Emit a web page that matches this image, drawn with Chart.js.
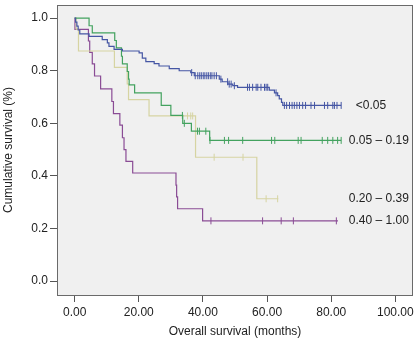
<!DOCTYPE html>
<html lang="en">
<head>
  <meta charset="UTF-8">
  <title>Overall survival</title>
  <script src="https://cdn.jsdelivr.net/npm/chart.js"></script>
  <style>
    html, body { margin: 0; padding: 0; background: #fff; }
  </style>
</head>
<body>
  <canvas id="kmChart" width="418" height="343"></canvas>

  <script>
    // groups
    const groupLabels = ['<0.05', '0.05 \u2013 0.19', '0.20 \u2013 0.39', '0.40 \u2013 1.00'];
    const groupColors = ['#4556a4', '#43a25f', '#d6d4a2', '#8a4c95'];

    // <0.05 : step times (months) and survival after each step
    const lowTimes = [0, 0.3, 0.7, 1.1, 1.6, 4.5, 8.6, 10.2, 10.7, 12.3, 14.9, 20.1, 21.1, 22.2, 24.8, 26.3, 29.5, 32.6, 36.2, 37.3, 45.1, 46.0, 47.8, 49.3, 50.8, 60.7, 62.3, 63.3, 63.8, 64.5, 64.9, 83.1];
    const lowSurv = [1.0, 0.985, 0.97, 0.955, 0.94, 0.931, 0.918, 0.906, 0.893, 0.881, 0.875, 0.868, 0.848, 0.835, 0.827, 0.818, 0.808, 0.800, 0.793, 0.781, 0.768, 0.758, 0.749, 0.743, 0.737, 0.726, 0.716, 0.705, 0.693, 0.680, 0.668, 0.668];
    const lowCensor = [36.5, 37.6, 38.4, 39.0, 39.5, 40.1, 40.6, 41.2, 41.7, 42.3, 42.8, 43.5, 44.2, 45.6, 47.7, 48.2, 48.8, 49.8, 53.9, 54.5, 55.5, 56.6, 57.1, 58.1, 59.2, 59.7, 60.2, 62.8, 65.4, 66.1, 67.0, 67.8, 68.5, 69.3, 70.1, 71.1, 72.0, 73.7, 74.8, 77.9, 78.9, 80.5, 81.0, 81.8, 83.1];

    // 0.05 - 0.19
    const midTimes = [0, 4.5, 5.5, 12.5, 13.0, 14.6, 14.9, 16.4, 16.8, 17.0, 18.7, 27.0, 30.0, 33.7, 36.4, 42.1, 83.1];
    const midSurv = [1.0, 0.971, 0.944, 0.915, 0.887, 0.855, 0.826, 0.797, 0.768, 0.746, 0.716, 0.668, 0.630, 0.600, 0.570, 0.535, 0.535];
    const midCensor = [33.6, 34.2, 38.3, 38.9, 40.9, 42.2, 46.7, 48.0, 52.4, 61.4, 62.4, 69.7, 70.6, 77.2, 78.9, 80.5, 82.0, 83.1];

    // 0.20 - 0.39
    const highTimes = [0, 0.5, 1.2, 12.4, 16.4, 16.8, 23.2, 37.7, 56.8, 63.5];
    const highSurv = [1.0, 0.958, 0.875, 0.813, 0.75, 0.690, 0.628, 0.471, 0.313, 0.313];
    const highCensor = [35.2, 36.2, 36.8, 43.5, 52.5, 59.7, 63.3];

    // 0.40 - 1.00
    const topTimes = [0, 0.1, 4.3, 4.7, 5.5, 6.2, 8.1, 11.6, 12.1, 14.1, 14.9, 15.4, 16.0, 18.1, 31.6, 31.8, 32.1, 39.9, 82.1];
    const topSurv = [1.0, 0.957, 0.913, 0.870, 0.826, 0.780, 0.731, 0.683, 0.637, 0.593, 0.545, 0.500, 0.455, 0.411, 0.365, 0.320, 0.275, 0.229, 0.229];
    const topCensor = [42.5, 58.6, 64.4, 68.2, 81.6];

    const xTicks = [0, 20, 40, 60, 80, 100];
    const yTicks = [0, 0.2, 0.4, 0.6, 0.8, 1.0];

    const groups = [
      { times: lowTimes, surv: lowSurv, censor: lowCensor },
      { times: midTimes, surv: midSurv, censor: midCensor },
      { times: highTimes, surv: highSurv, censor: highCensor },
      { times: topTimes, surv: topSurv, censor: topCensor }
    ];

    // survival value of a step curve at time t
    function survAt(g, t) {
      let s = g.surv[0];
      for (let i = 0; i < g.times.length; i++) {
        if (g.times[i] <= t) s = g.surv[i];
      }
      return s;
    }

    const datasets = [];
    groups.forEach((g, i) => {
      datasets.push({
        label: groupLabels[i],
        data: g.times.map((t, k) => ({ x: t, y: g.surv[k] })),
        showLine: true,
        stepped: true,
        borderColor: groupColors[i],
        borderWidth: 1.2,
        pointRadius: 0,
        fill: false
      });
      datasets.push({
        label: groupLabels[i] + ' censored',
        data: g.censor.map(t => ({ x: t, y: survAt(g, t) })),
        showLine: false,
        pointStyle: 'line',
        rotation: 90,
        pointRadius: 3.5,
        borderColor: groupColors[i],
        borderWidth: 1
      });
    });

    const FONT = 'Liberation Sans, Arial, Helvetica, sans-serif';

    const frame = {
      id: 'frame',
      beforeDraw(chart) {
        const { ctx, chartArea: a } = chart;
        ctx.save();
        ctx.fillStyle = '#ffffff';
        ctx.fillRect(0, 0, chart.width, chart.height);
        ctx.fillStyle = '#f0f0f0';
        ctx.fillRect(a.left, a.top, a.right - a.left, a.bottom - a.top);
        ctx.restore();
      },
      afterDatasetsDraw(chart) {
        const { ctx, chartArea: a, scales } = chart;
        ctx.save();
        ctx.strokeStyle = '#6a6a6a';
        ctx.lineWidth = 1;
        ctx.strokeRect(a.left + 0.5, a.top + 0.5, a.right - a.left - 1, a.bottom - a.top);
        // group labels at the right end of the curves
        ctx.fillStyle = '#222';
        ctx.font = '12px ' + FONT;
        ctx.textBaseline = 'middle';
        ctx.textAlign = 'left';
        const lx = scales.x.getPixelForValue(85.5);
        groups.forEach((g, i) => {
          const y = scales.y.getPixelForValue(g.surv[g.surv.length - 1]);
          ctx.fillText(groupLabels[i], i === 0 ? lx + 7 : lx, y);
        });
        ctx.restore();
      }
    };

    new Chart(document.getElementById('kmChart').getContext('2d'), {
      type: 'scatter',
      data: { datasets: datasets },
      plugins: [frame],
      options: {
        responsive: false,
        animation: false,
        layout: { padding: { top: 2, right: 5, left: 0, bottom: 0 } },
        plugins: { legend: { display: false }, tooltip: { enabled: false } },
        scales: {
          x: {
            type: 'linear',
            min: -5.5,
            max: 105.5,
            afterBuildTicks: s => { s.ticks = xTicks.map(v => ({ value: v })); },
            afterFit: s => { s.height = 48; s.paddingLeft = 0; s.paddingRight = 0; },
            grid: { drawOnChartArea: false, tickLength: 7, tickColor: '#555' },
            border: { display: false },
            ticks: {
              padding: 3,
              color: '#222',
              font: { family: FONT, size: 12 },
              callback: v => v.toFixed(2)
            },
            title: {
              display: true,
              text: 'Overall survival (months)',
              color: '#222',
              font: { family: FONT, size: 12 },
              padding: { top: 0, bottom: 4 }
            }
          },
          y: {
            type: 'linear',
            min: -0.053,
            max: 1.05,
            afterBuildTicks: s => { s.ticks = yTicks.map(v => ({ value: v })); },
            afterFit: s => { s.width = 57; s.paddingTop = 0; s.paddingBottom = 0; },
            grid: { drawOnChartArea: false, tickLength: 7, tickColor: '#555' },
            border: { display: false },
            ticks: {
              padding: 2,
              color: '#222',
              font: { family: FONT, size: 12 },
              callback: v => v.toFixed(1)
            },
            title: {
              display: true,
              text: 'Cumulative survival (%)',
              color: '#222',
              font: { family: FONT, size: 12 },
              padding: { top: 1, bottom: 0 }
            }
          }
        }
      }
    });
  </script>
</body>
</html>
